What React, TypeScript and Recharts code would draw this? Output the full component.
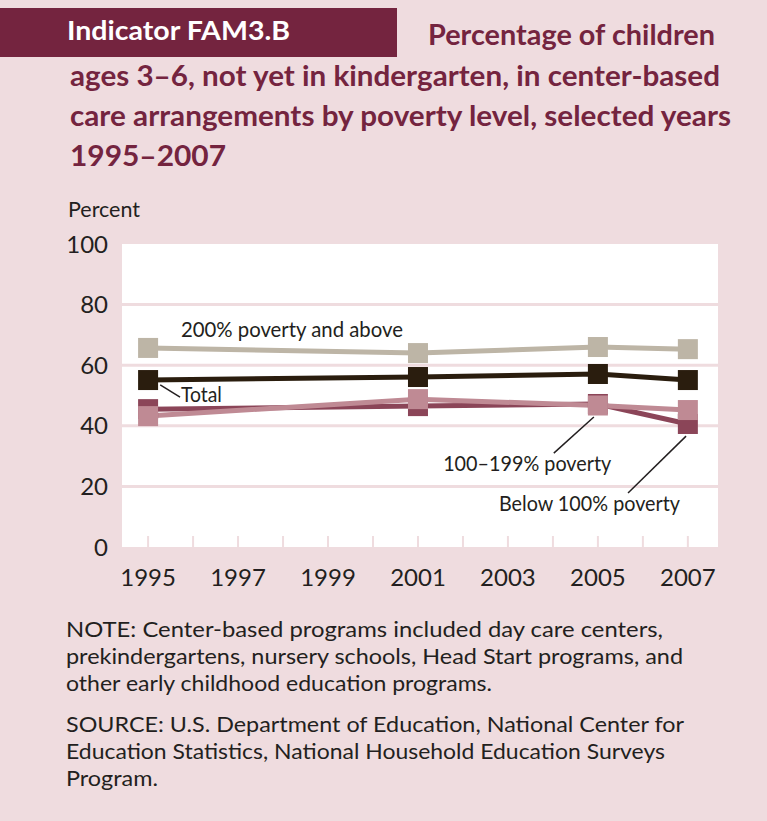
import React from 'react';
import {
  LineChart,
  Line,
  XAxis,
  YAxis,
  CartesianGrid,
  ReferenceLine,
  ReferenceDot,
} from 'recharts';

// ---- data ----
const years = [1995, 2001, 2005, 2007];
const pov200Above = [65.7, 64.0, 66.0, 65.3];
const totalAll = [55.1, 56.1, 57.1, 55.1];
const below100 = [45.5, 46.5, 47.2, 40.6];
const pov100to199 = [43.2, 48.8, 46.7, 45.2];

const xTickYears = [1995, 1996, 1997, 1998, 1999, 2000, 2001, 2002, 2003, 2004, 2005, 2006, 2007];
const xLabelYears = [1995, 1997, 1999, 2001, 2003, 2005, 2007];
const yTicks = [0, 20, 40, 60, 80, 100];
const gridValues = [20, 40, 60, 80];

const rows = years.map((year, i) => ({
  year,
  pov200: pov200Above[i],
  total: totalAll[i],
  below: below100[i],
  mid: pov100to199[i],
}));

// ---- styles ----
const BG = '#EFDCDF';
const MAROON = '#74243F';
const INK = '#231F20';
const C200 = '#BDB5A6';
const CTOTAL = '#2A1D0E';
const CBELOW = '#8B4558';
const CMID = '#BF8A94';
const FONT = 'Lato, "Open Sans", sans-serif';

const squareDot = (color: string) => (props: any) => {
  const { cx, cy, index } = props;
  if (cx == null || cy == null) return <g key={index} />;
  return <rect key={index} x={cx - 10} y={cy - 10} width={20} height={20} fill={color} />;
};

const XTick = (props: any) => {
  const { x, y, payload } = props;
  const show = xLabelYears.includes(payload.value);
  return (
    <g>
      <line x1={x} x2={x} y1={y} y2={y - 11} stroke={BG} strokeWidth={2} />
      {show && (
        <text x={x} y={y + 39} textAnchor="middle" fill={INK} fontSize={24} fontFamily={FONT}>
          {payload.value}
        </text>
      )}
    </g>
  );
};

const labelShape = (text: string, width: number) => (props: any) => (
  <text
    x={props.cx}
    y={props.cy}
    fill={INK}
    fontSize={21}
    fontFamily={FONT}
    textLength={width}
    lengthAdjust="spacingAndGlyphs"
  >
    {text}
  </text>
);

const noteLines = [
  'NOTE: Center-based programs included day care centers,',
  'prekindergartens, nursery schools, Head Start programs, and',
  'other early childhood education programs.',
];
const noteWidths = [597, 617, 426];
const sourceLines = [
  'SOURCE: U.S. Department of Education, National Center for',
  'Education Statistics, National Household Education Surveys',
  'Program.',
];
const sourceWidths = [618, 599, 92];

export default function App() {
  return (
    <div
      style={{
        position: 'absolute',
        left: 0,
        top: 0,
        width: 767,
        height: 821,
        background: BG,
        overflow: 'hidden',
      }}
    >
      <div style={{ position: 'absolute', left: 0, top: 0 }}>
        <LineChart
          width={767}
          height={821}
          data={rows}
          margin={{ top: 244, right: 49, bottom: 234, left: 66 }}
        >
          <CartesianGrid
            fill="#FFFFFF"
            vertical={false}
            horizontal
            horizontalValues={gridValues}
            stroke={BG}
            strokeWidth={3}
          />
          <XAxis
            type="number"
            dataKey="year"
            domain={[1994.42, 2007.67]}
            ticks={xTickYears}
            interval={0}
            allowDataOverflow
            axisLine={false}
            tickLine={false}
            tickSize={0}
            tickMargin={0}
            height={40}
            tick={<XTick />}
          />
          <YAxis
            type="number"
            domain={[0, 100]}
            ticks={yTicks}
            interval={0}
            allowDataOverflow
            axisLine={false}
            tickLine={false}
            tickSize={0}
            tickMargin={14}
            width={56}
            tick={{ fill: INK, fontSize: 24, fontFamily: FONT }}
          />
          <Line
            dataKey="pov200"
            stroke={C200}
            strokeWidth={5}
            dot={squareDot(C200)}
            activeDot={false}
            isAnimationActive={false}
          />
          <Line
            dataKey="total"
            stroke={CTOTAL}
            strokeWidth={5}
            dot={squareDot(CTOTAL)}
            activeDot={false}
            isAnimationActive={false}
          />
          <Line
            dataKey="below"
            stroke={CBELOW}
            strokeWidth={5}
            dot={squareDot(CBELOW)}
            activeDot={false}
            isAnimationActive={false}
          />
          <Line
            dataKey="mid"
            stroke={CMID}
            strokeWidth={5}
            dot={squareDot(CMID)}
            activeDot={false}
            isAnimationActive={false}
          />
          <ReferenceLine
            segment={[{ x: 1995.27, y: 53.5 }, { x: 1995.71, y: 49.5 }]}
            stroke={INK}
            strokeWidth={1.5}
          />
          <ReferenceLine
            segment={[{ x: 2004.91, y: 42.9 }, { x: 2004.02, y: 31.0 }]}
            stroke={INK}
            strokeWidth={1.5}
          />
          <ReferenceLine
            segment={[{ x: 2006.96, y: 36.6 }, { x: 2005.67, y: 17.8 }]}
            stroke={INK}
            strokeWidth={1.5}
          />
          <ReferenceDot x={1995.73} y={69.3} r={0} shape={labelShape('200% poverty and above', 222)} />
          <ReferenceDot x={1995.73} y={48.0} r={0} shape={labelShape('Total', 41)} />
          <ReferenceDot x={2001.56} y={25.1} r={0} shape={labelShape('100–199% poverty', 168)} />
          <ReferenceDot x={2002.8} y={11.9} r={0} shape={labelShape('Below 100% poverty', 181)} />
        </LineChart>
      </div>
      <svg
        width={767}
        height={821}
        style={{ position: 'absolute', left: 0, top: 0, pointerEvents: 'none' }}
      >
        <rect x={0} y={8} width={397} height={49} fill={MAROON} />
        <text x={67} y={40} fill="#FFFFFF" fontSize={26} fontWeight={700} fontFamily={FONT} textLength={223} lengthAdjust="spacingAndGlyphs">
          Indicator FAM3.B
        </text>
        <text x={428} y={45} fill={MAROON} fontSize={28} fontWeight={700} fontFamily={FONT} textLength={287} lengthAdjust="spacingAndGlyphs">
          Percentage of children
        </text>
        <text x={70} y={86} fill={MAROON} fontSize={28} fontWeight={700} fontFamily={FONT} textLength={650} lengthAdjust="spacingAndGlyphs">
          ages 3–6, not yet in kindergarten, in center-based
        </text>
        <text x={70} y={126} fill={MAROON} fontSize={28} fontWeight={700} fontFamily={FONT} textLength={661} lengthAdjust="spacingAndGlyphs">
          care arrangements by poverty level, selected years
        </text>
        <text x={70} y={166} fill={MAROON} fontSize={28} fontWeight={700} fontFamily={FONT} textLength={156} lengthAdjust="spacingAndGlyphs">
          1995–2007
        </text>
        <text x={68} y={217} fill={INK} fontSize={22} fontFamily={FONT} textLength={72} lengthAdjust="spacingAndGlyphs">
          Percent
        </text>
        {noteLines.map((t, i) => (
          <text key={'n' + i} x={66} y={637 + i * 27} fill={INK} fontSize={22} fontFamily={FONT} textLength={noteWidths[i]} lengthAdjust="spacingAndGlyphs">
            {t}
          </text>
        ))}
        {sourceLines.map((t, i) => (
          <text key={'s' + i} x={66} y={732 + i * 27} fill={INK} fontSize={22} fontFamily={FONT} textLength={sourceWidths[i]} lengthAdjust="spacingAndGlyphs">
            {t}
          </text>
        ))}
      </svg>
    </div>
  );
}
